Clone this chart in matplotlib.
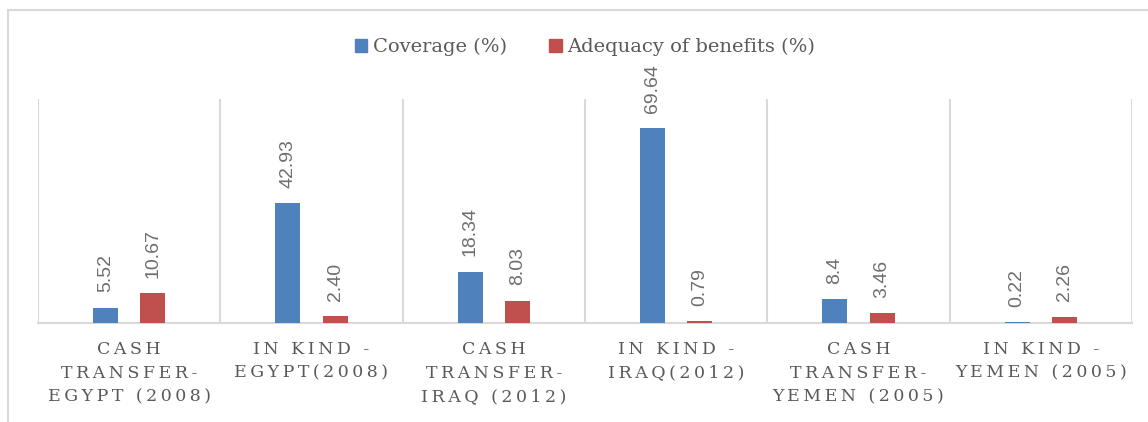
import matplotlib.pyplot as plt
from matplotlib.patches import Patch, Rectangle

categories = [
    "CASH\nTRANSFER-\nEGYPT (2008)",
    "IN KIND -\nEGYPT(2008)",
    "CASH\nTRANSFER-\nIRAQ (2012)",
    "IN KIND -\nIRAQ(2012)",
    "CASH\nTRANSFER-\nYEMEN (2005)",
    "IN KIND -\nYEMEN (2005)",
]
coverage = [5.52, 42.93, 18.34, 69.64, 8.4, 0.22]
coverage_labels = ["5.52", "42.93", "18.34", "69.64", "8.4", "0.22"]
adequacy = [10.67, 2.40, 8.03, 0.79, 3.46, 2.26]
adequacy_labels = ["10.67", "2.40", "8.03", "0.79", "3.46", "2.26"]

blue = "#4f81bd"
red = "#c0504d"
grid_col = "#d9d9d9"
text_col = "#595959"


def spaced(s):
    # fake the letter spacing of the original axis labels
    return "\n".join("\u2009".join(line) for line in s.split("\n"))


fig = plt.figure(figsize=(11.48, 4.22), dpi=100)
ax = fig.add_axes([38 / 1148, 1 - 323 / 422, 1094 / 1148, 224 / 422])

# outer chart border
fig.patches.append(Rectangle((8 / 1148, -0.05), 1.1, 1 - 10 / 422 + 0.05,
                             transform=fig.transFigure, fill=False,
                             edgecolor=grid_col, lw=1.5))

x = list(range(len(categories)))
w = 0.137
off = 0.13
ax.bar([i - off for i in x], coverage, w, color=blue, zorder=3)
ax.bar([i + off for i in x], adequacy, w, color=red, zorder=3)

for i in x:
    ax.annotate(coverage_labels[i], (i - off, coverage[i]), xytext=(0, 11),
                textcoords="offset points", rotation=90, ha="center",
                va="bottom", fontsize=14, color="#6e6e6e",
                family="Liberation Sans")
    ax.annotate(adequacy_labels[i], (i + off, adequacy[i]), xytext=(0, 11),
                textcoords="offset points", rotation=90, ha="center",
                va="bottom", fontsize=14, color="#6e6e6e",
                family="Liberation Sans")

for b in range(len(categories) + 1):
    ax.axvline(b - 0.5, color=grid_col, lw=1.5, zorder=1)

ax.set_xlim(-0.5, len(categories) - 0.5)
ax.set_ylim(0, 80)
ax.set_yticks([])
for s in ["left", "top", "right"]:
    ax.spines[s].set_visible(False)
ax.spines["bottom"].set_color(grid_col)
ax.spines["bottom"].set_linewidth(1.5)

ax.set_xticks(x)
ax.set_xticklabels([spaced(c) for c in categories], fontsize=12.5,
                   family="DejaVu Serif", color=text_col)
ax.tick_params(axis="x", length=0, pad=13)
for lab in ax.get_xticklabels():
    lab.set_linespacing(1.5)

handles = [Patch(color=blue), Patch(color=red)]
fig.legend(handles, ["Coverage (%)", "Adequacy of benefits (%)"],
           loc="center", bbox_to_anchor=(585 / 1148, 1 - 47 / 422),
           ncol=2, frameon=False, handlelength=0.62, handleheight=0.62,
           handletextpad=0.3, columnspacing=2.2,
           prop={"family": "DejaVu Serif", "size": 14}, labelcolor=text_col)

fig.savefig("out.png", dpi=100)
